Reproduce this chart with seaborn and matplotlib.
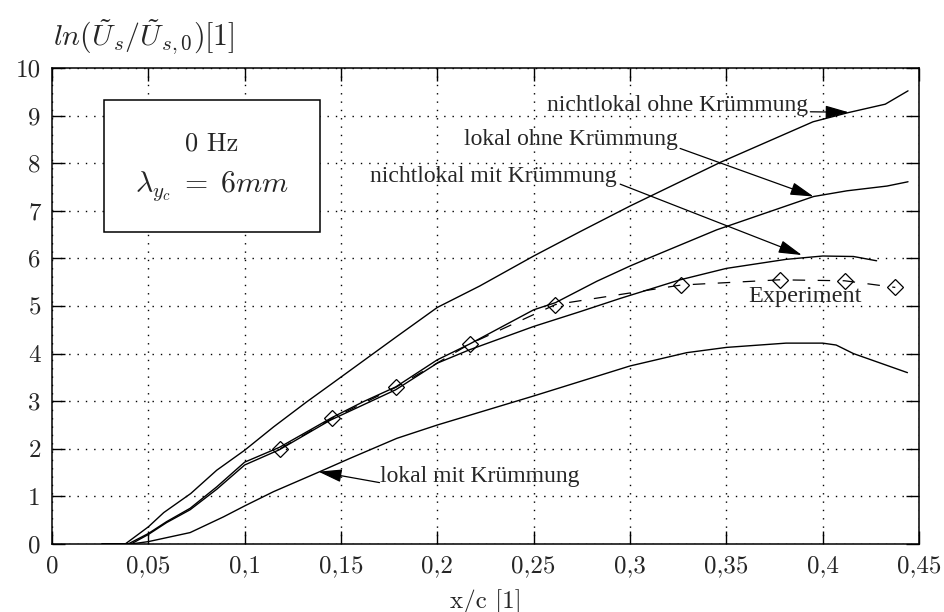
import matplotlib
matplotlib.use("Agg")
import matplotlib.pyplot as plt
import matplotlib.patches as mpatches
import numpy as np
import pandas as pd
import seaborn as sns

# --- data -------------------------------------------------------------
x_nl_ohne = [0.026, 0.038, 0.05, 0.058, 0.072, 0.0855, 0.1, 0.115, 0.132, 0.145,
             0.162, 0.179, 0.2, 0.222, 0.25, 0.274, 0.3, 0.347, 0.395, 0.413,
             0.4325, 0.4443]
y_nl_ohne = [0.0, 0.0, 0.36, 0.66, 1.06, 1.55, 1.97, 2.46, 2.98, 3.36,
             3.86, 4.36, 4.97, 5.42, 6.05, 6.56, 7.10, 8.02, 8.87, 9.06,
             9.24, 9.52]

x_l_ohne = [0.026, 0.0395, 0.05, 0.0595, 0.0717, 0.0855, 0.1, 0.118, 0.1455, 0.1616,
            0.1784, 0.2, 0.2167, 0.25, 0.2613, 0.2828, 0.3, 0.307, 0.345, 0.3953,
            0.4126, 0.4334, 0.4443]
y_l_ohne = [0.0, 0.0, 0.22, 0.47, 0.75, 1.20, 1.72, 2.03, 2.66, 2.99,
            3.30, 3.87, 4.20, 4.92, 5.07, 5.52, 5.84, 5.96, 6.60, 7.30,
            7.42, 7.52, 7.61]

x_nl_mit = [0.026, 0.041, 0.05, 0.0595, 0.0717, 0.0855, 0.1, 0.118, 0.1444, 0.1784,
            0.2, 0.2167, 0.25, 0.274, 0.295, 0.326, 0.35, 0.381, 0.4, 0.416, 0.428]
y_nl_mit = [0.0, 0.0, 0.20, 0.45, 0.72, 1.15, 1.66, 1.98, 2.60, 3.24,
            3.80, 4.08, 4.57, 4.88, 5.16, 5.55, 5.79, 5.98, 6.05, 6.04, 5.95]

x_l_mit = [0.026, 0.041, 0.05, 0.0717, 0.089, 0.1, 0.115, 0.139, 0.1547, 0.179,
           0.2, 0.25, 0.3, 0.3295, 0.35, 0.381, 0.4, 0.407, 0.416, 0.444]
y_l_mit = [0.0, 0.0, 0.05, 0.24, 0.57, 0.80, 1.10, 1.52, 1.80, 2.22,
           2.50, 3.11, 3.74, 4.02, 4.13, 4.22, 4.22, 4.18, 4.00, 3.60]

x_exp = [0.1184, 0.1455, 0.1784, 0.2167, 0.2613, 0.3264, 0.3776, 0.4114, 0.4377]
y_exp = [2.00, 2.64, 3.29, 4.20, 5.03, 5.44, 5.55, 5.53, 5.39]

x_ticks = [0, 0.05, 0.1, 0.15, 0.2, 0.25, 0.3, 0.35, 0.4, 0.45]
x_ticklabels = ["0", "0,05", "0,1", "0,15", "0,2", "0,25", "0,3", "0,35", "0,4", "0,45"]
y_ticks = list(range(0, 11))
y_ticklabels = [str(v) for v in y_ticks]

# --- style ------------------------------------------------------------
sns.set_style("ticks")
plt.rcParams["mathtext.fontset"] = "cm"
plt.rcParams["font.family"] = ["Liberation Serif", "DejaVu Serif"]

fig = plt.figure(figsize=(9.44, 6.12), dpi=100)
ax = fig.add_axes([52 / 944, 1 - 544 / 612, (919 - 52) / 944, (544 - 68) / 612])

line_kw = dict(color="black", linewidth=1.0, estimator=None, sort=False, ax=ax, legend=False)
for xs, ys in [(x_nl_ohne, y_nl_ohne), (x_l_ohne, y_l_ohne),
               (x_nl_mit, y_nl_mit), (x_l_mit, y_l_mit)]:
    sns.lineplot(x=xs, y=ys, **line_kw)

sns.lineplot(x=x_exp, y=y_exp, color="black", linewidth=0.9, estimator=None,
             sort=False, ax=ax, legend=False, linestyle=(0, (10, 10)),
             marker="D", markersize=8, markerfacecolor="none",
             markeredgecolor="black", markeredgewidth=0.9)

ax.set_xlim(0, 0.45)
ax.set_ylim(0, 10)
ax.set_xticks(x_ticks)
ax.set_xticklabels(x_ticklabels)
ax.set_yticks(y_ticks)
ax.set_yticklabels(y_ticklabels)
ax.tick_params(direction="in", length=9.5, width=1.0, top=True, right=True,
               labelsize=18, pad=8, color="black")
for lab in ax.get_xticklabels() + ax.get_yticklabels():
    lab.set_family("cmr10")
ax.grid(True, color="black", linestyle=(0, (1, 5)), linewidth=1.0)
for sp in ax.spines.values():
    sp.set_visible(True)
    sp.set_linewidth(1.1)
    sp.set_color("black")

ax.set_xlabel("x/c [1]", family="cmr10", fontsize=18)
ax.xaxis.set_label_coords(0.5, -0.12)
ax.xaxis.label.set_va("center")
ax.set_ylabel("")

fig.text(53 / 944, 1 - 37 / 612, r"$ln(\tilde{U}_s/\tilde{U}_{s,0})[1]$",
         ha="left", va="center", fontsize=21.5)

# parameter box
box = mpatches.Rectangle((0.027, 6.56), 0.112, 2.77, facecolor="white",
                         edgecolor="black", linewidth=1.1, zorder=3)
ax.add_patch(box)
ax.text(0.083, 8.42, "0 Hz", family="cmr10", fontsize=19, ha="center",
        va="center", zorder=4)
ax.text(0.083, 7.51, r"$\lambda_{y_c}\;=\;6mm$", fontsize=21.5, ha="center",
        va="center", zorder=4)

# curve labels with arrows
arrow_kw = dict(arrowstyle="-|>,head_length=0.8,head_width=0.22", color="black",
                lw=0.9, shrinkA=0, shrinkB=0, mutation_scale=18)
txt_kw = dict(fontsize=17, va="center", ha="left", zorder=4)

ax.text(0.257, 9.22, "nichtlokal ohne Krümmung", **txt_kw)
ax.annotate("", xy=(0.4135, 9.07), xytext=(0.3936, 9.08), arrowprops=arrow_kw)

ax.text(0.2136, 8.49, "lokal ohne Krümmung", **txt_kw)
ax.annotate("", xy=(0.3953, 7.30), xytext=(0.326, 8.31), arrowprops=arrow_kw)

ax.text(0.165, 7.72, "nichtlokal mit Krümmung", **txt_kw)
ax.annotate("", xy=(0.3892, 6.07), xytext=(0.2949, 7.56), arrowprops=arrow_kw)

ax.text(0.170, 1.41, "lokal mit Krümmung", **txt_kw)
ax.annotate("", xy=(0.1383, 1.52), xytext=(0.170, 1.29), arrowprops=arrow_kw)

ax.text(0.3615, 5.20, "Experiment", fontsize=17.5, va="center", ha="left", zorder=4)

fig.savefig("out.png", dpi=100)
